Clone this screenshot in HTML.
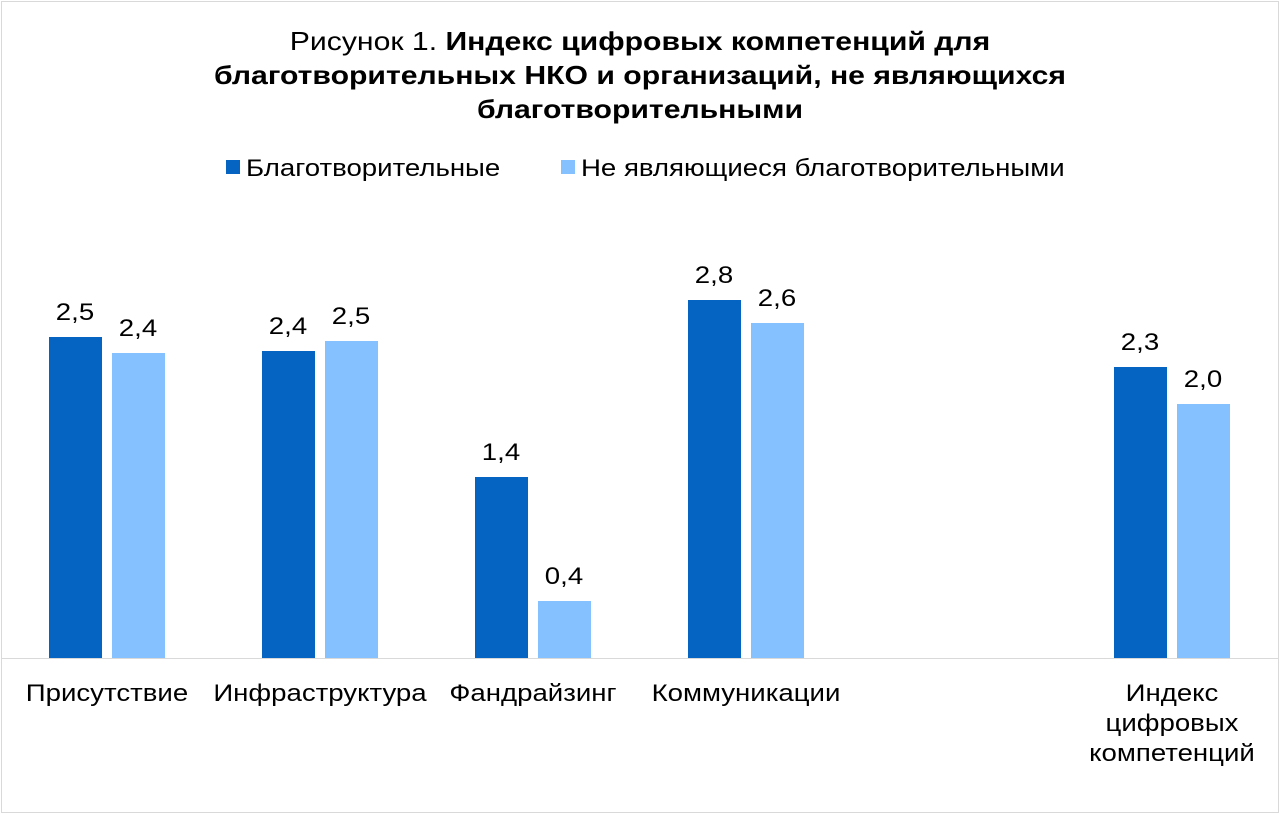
<!DOCTYPE html>
<html><head><meta charset="utf-8"><style>
body{margin:0;width:1280px;height:814px;background:#fff;font-family:"Liberation Sans",Arial,sans-serif;overflow:hidden}
.frame{position:absolute;left:1px;top:1px;width:1276px;height:810px;border:1px solid #d9d9d9}
.t{position:absolute;color:#000;white-space:nowrap}
.bar{position:absolute;width:53px}
.d{background:#0563C1}.l{background:#85C1FF}
.v{position:absolute;font-size:24px;width:80px;text-align:center;transform:scaleX(1.15)}
.c{position:absolute;font-size:24px;text-align:center;line-height:30px;transform:scaleX(1.15);white-space:nowrap}
</style></head><body>
<div class="frame"></div>
<div class="t" style="left:0;width:1280px;top:24px;text-align:center;font-size:26px;line-height:34px;transform:scaleX(1.16)">Рисунок 1. <b>Индекс цифровых компетенций для<br>благотворительных НКО и организаций, не являющихся<br>благотворительными</b></div>
<div style="position:absolute;left:226px;top:160px;width:14px;height:14px;background:#0563C1"></div>
<div class="t" style="left:246px;top:155px;font-size:24px;transform:scaleX(1.15);transform-origin:left center">Благотворительные</div>
<div style="position:absolute;left:561px;top:160px;width:14px;height:14px;background:#85C1FF"></div>
<div class="t" style="left:581px;top:155px;font-size:24px;transform:scaleX(1.15);transform-origin:left center">Не являющиеся благотворительными</div>
<div style="position:absolute;left:2px;top:658px;width:1276px;height:1px;background:#d9d9d9"></div>

<div class="bar d" style="left:49px;top:337px;height:321px"></div>
<div class="bar l" style="left:112px;top:353px;height:305px"></div>
<div class="bar d" style="left:262px;top:351px;height:307px"></div>
<div class="bar l" style="left:325px;top:341px;height:317px"></div>
<div class="bar d" style="left:475px;top:477px;height:181px"></div>
<div class="bar l" style="left:538px;top:601px;height:57px"></div>
<div class="bar d" style="left:688px;top:300px;height:358px"></div>
<div class="bar l" style="left:751px;top:323px;height:335px"></div>
<div class="bar d" style="left:1114px;top:367px;height:291px"></div>
<div class="bar l" style="left:1177px;top:404px;height:254px"></div>

<div class="v" style="left:35px;top:299px">2,5</div>
<div class="v" style="left:98px;top:315px">2,4</div>
<div class="v" style="left:248px;top:313px">2,4</div>
<div class="v" style="left:311px;top:303px">2,5</div>
<div class="v" style="left:461px;top:439px">1,4</div>
<div class="v" style="left:524px;top:563px">0,4</div>
<div class="v" style="left:674px;top:262px">2,8</div>
<div class="v" style="left:737px;top:285px">2,6</div>
<div class="v" style="left:1100px;top:329px">2,3</div>
<div class="v" style="left:1163px;top:366px">2,0</div>

<div class="c" style="left:7px;width:200px;top:679px">Присутствие</div>
<div class="c" style="left:210px;width:220px;top:679px">Инфраструктура</div>
<div class="c" style="left:433px;width:200px;top:679px">Фандрайзинг</div>
<div class="c" style="left:646px;width:200px;top:679px">Коммуникации</div>
<div class="c" style="left:1072px;width:200px;top:679px">Индекс<br>цифровых<br>компетенций</div>
</body></html>
